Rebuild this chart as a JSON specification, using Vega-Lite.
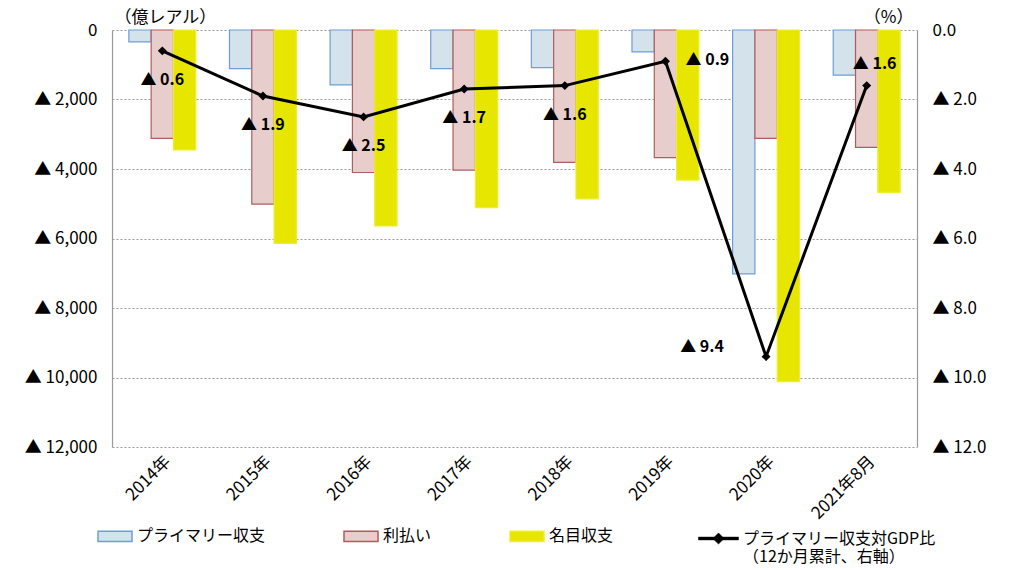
{
  "$schema": "https://vega.github.io/schema/vega-lite/v6.json",
  "width": 805,
  "height": 417,
  "autosize": "none",
  "padding": {"left": 112, "top": 30, "right": 98, "bottom": 123},
  "background": "white",
  "config": {"view": {"stroke": null}, "font": "Noto Sans CJK JP"},
  "datasets": {
    "bars": [
      {"year": "2014年", "series": "プライマリー収支", "value": -340},
      {"year": "2014年", "series": "利払い", "value": -3120},
      {"year": "2014年", "series": "名目収支", "value": -3450},
      {"year": "2015年", "series": "プライマリー収支", "value": -1110},
      {"year": "2015年", "series": "利払い", "value": -5010},
      {"year": "2015年", "series": "名目収支", "value": -6140},
      {"year": "2016年", "series": "プライマリー収支", "value": -1580},
      {"year": "2016年", "series": "利払い", "value": -4100},
      {"year": "2016年", "series": "名目収支", "value": -5640},
      {"year": "2017年", "series": "プライマリー収支", "value": -1110},
      {"year": "2017年", "series": "利払い", "value": -4030},
      {"year": "2017年", "series": "名目収支", "value": -5110},
      {"year": "2018年", "series": "プライマリー収支", "value": -1080},
      {"year": "2018年", "series": "利払い", "value": -3810},
      {"year": "2018年", "series": "名目収支", "value": -4860},
      {"year": "2019年", "series": "プライマリー収支", "value": -630},
      {"year": "2019年", "series": "利払い", "value": -3670},
      {"year": "2019年", "series": "名目収支", "value": -4320},
      {"year": "2020年", "series": "プライマリー収支", "value": -7020},
      {"year": "2020年", "series": "利払い", "value": -3120},
      {"year": "2020年", "series": "名目収支", "value": -10120},
      {"year": "2021年8月", "series": "プライマリー収支", "value": -1300},
      {"year": "2021年8月", "series": "利払い", "value": -3380},
      {"year": "2021年8月", "series": "名目収支", "value": -4670}
    ],
    "ratio": [
      {"year": "2014年", "gdp": -0.6, "label": "▲ 0.6"},
      {"year": "2015年", "gdp": -1.9, "label": "▲ 1.9"},
      {"year": "2016年", "gdp": -2.5, "label": "▲ 2.5"},
      {"year": "2017年", "gdp": -1.7, "label": "▲ 1.7"},
      {"year": "2018年", "gdp": -1.6, "label": "▲ 1.6"},
      {"year": "2019年", "gdp": -0.9, "label": "▲ 0.9"},
      {"year": "2020年", "gdp": -9.4, "label": "▲ 9.4"},
      {"year": "2021年8月", "gdp": -1.6, "label": "▲ 1.6"}
    ]
  },
  "layer": [
    {
      "data": {"name": "bars"},
      "mark": {"type": "bar", "strokeWidth": 1.2},
      "encoding": {
        "x": {
          "field": "year", "type": "nominal", "sort": null,
          "scale": {"paddingInner": 0.335, "paddingOuter": 0.1675},
          "axis": {"title": null, "labelAngle": -45, "domain": false, "ticks": false, "labelFontSize": 17, "labelColor": "#000", "labelPadding": 6}
        },
        "xOffset": {
          "field": "series", "type": "nominal", "sort": ["プライマリー収支", "利払い", "名目収支"],
          "scale": {"paddingInner": 0, "paddingOuter": 0}
        },
        "y": {
          "field": "value", "type": "quantitative",
          "scale": {"domain": [-12000, 0], "nice": false},
          "axis": {
            "values": [0, -2000, -4000, -6000, -8000, -10000, -12000],
            "labelExpr": "datum.value == 0 ? '0' : '▲  ' + format(-datum.value, ',')",
            "grid": true, "gridDash": [2, 2], "gridColor": "#999", "gridWidth": 1.2,
            "ticks": false, "domainColor": "#999", "domainWidth": 1.2,
            "labelFontSize": 17, "labelColor": "#000", "labelPadding": 15,
            "title": "（億レアル）", "titleAngle": 0, "titleAlign": "left", "titleBaseline": "middle",
            "titleX": 2, "titleY": -13, "titleFontSize": 17, "titleFontWeight": "normal", "titleColor": "#000"
          }
        },
        "fill": {
          "field": "series", "type": "nominal",
          "scale": {"domain": ["プライマリー収支", "利払い", "名目収支"], "range": ["#d4e2ec", "#e8cdcd", "#e6e600"]},
          "legend": {
            "title": null, "orient": "none", "legendX": -15, "legendY": 488, "direction": "horizontal",
            "columnPadding": 75, "symbolType": "M-1,-0.3L1,-0.3L1,0.3L-1,0.3Z", "symbolSize": 1156,
            "labelFontSize": 16, "labelColor": "#000", "labelOffset": 4
          }
        },
        "stroke": {
          "field": "series", "type": "nominal",
          "scale": {"domain": ["プライマリー収支", "利払い", "名目収支"], "range": ["#6d9ed8", "#b05c5c", "#eeee30"]},
          "legend": {
            "title": null, "orient": "none", "legendX": -15, "legendY": 488, "direction": "horizontal",
            "columnPadding": 75, "symbolType": "M-1,-0.3L1,-0.3L1,0.3L-1,0.3Z", "symbolSize": 1156,
            "labelFontSize": 16, "labelColor": "#000", "labelOffset": 4
          }
        }
      }
    },
    {
      "data": {"name": "ratio"},
      "encoding": {
        "x": {"field": "year", "type": "nominal", "sort": null, "scale": {"paddingInner": 0.335, "paddingOuter": 0.1675}},
        "y": {
          "field": "gdp", "type": "quantitative",
          "scale": {"domain": [-12, 0], "nice": false},
          "axis": {
            "orient": "right",
            "values": [0, -2, -4, -6, -8, -10, -12],
            "labelExpr": "datum.value == 0 ? '0.0' : '▲  ' + format(-datum.value, '.1f')",
            "grid": false, "ticks": false, "domainColor": "#999", "domainWidth": 1.2,
            "labelFontSize": 17, "labelColor": "#000", "labelPadding": 15,
            "title": "（%）", "titleAngle": 0, "titleAlign": "right", "titleBaseline": "middle",
            "titleX": -4, "titleY": -13, "titleFontSize": 17, "titleFontWeight": "normal", "titleColor": "#000"
          }
        }
      },
      "layer": [
        {
          "mark": {"type": "line", "strokeWidth": 3, "point": {"shape": "diamond", "filled": true, "size": 80}},
          "encoding": {
            "color": {
              "datum": "プライマリー収支対GDP比",
              "scale": {"domain": ["プライマリー収支対GDP比"], "range": ["#000000"]},
              "legend": {
                "title": null, "orient": "none", "legendX": 586, "legendY": 488,
                "symbolType": "M-1,-0.07L1,-0.07L1,0.07L-1,0.07Z M0,-0.28L0.28,0L0,0.28L-0.28,0Z",
                "symbolSize": 1600, "symbolFillColor": "#000", "symbolStrokeColor": "#000", "symbolStrokeWidth": 0.5,
                "labelExpr": "['プライマリー収支対GDP比', '（12か月累計、右軸）']",
                "labelFontSize": 16, "labelColor": "#000", "labelOffset": 4, "labelLimit": 300
              }
            }
          }
        },
        {
          "transform": [{"filter": "indexof(['2019年', '2020年', '2021年8月'], datum.year) < 0"}],
          "mark": {"type": "text", "dy": 29, "fontSize": 16, "fontWeight": "bold", "color": "#000"},
          "encoding": {"text": {"field": "label", "type": "nominal"}}
        },
        {
          "transform": [{"filter": "datum.year == '2019年'"}],
          "mark": {"type": "text", "dx": 42, "dy": -1, "fontSize": 16, "fontWeight": "bold", "color": "#000"},
          "encoding": {"text": {"field": "label", "type": "nominal"}}
        },
        {
          "transform": [{"filter": "datum.year == '2020年'"}],
          "mark": {"type": "text", "dx": -64, "dy": -10, "fontSize": 16, "fontWeight": "bold", "color": "#000"},
          "encoding": {"text": {"field": "label", "type": "nominal"}}
        },
        {
          "transform": [{"filter": "datum.year == '2021年8月'"}],
          "mark": {"type": "text", "dx": 8, "dy": -22, "fontSize": 16, "fontWeight": "bold", "color": "#000"},
          "encoding": {"text": {"field": "label", "type": "nominal"}}
        }
      ]
    }
  ],
  "resolve": {"scale": {"y": "independent"}}
}
